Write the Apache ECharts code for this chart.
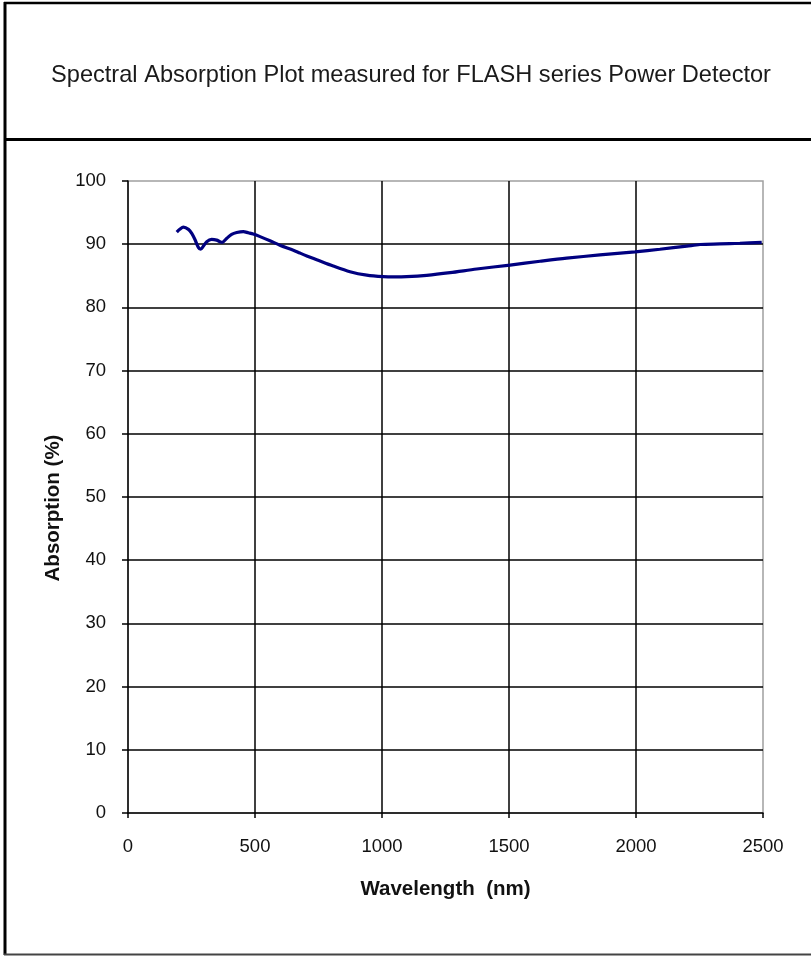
<!DOCTYPE html>
<html>
<head>
<meta charset="utf-8">
<title>Spectral Absorption Plot</title>
<script src="https://cdn.jsdelivr.net/npm/echarts@6/dist/echarts.min.js"></script>
<style>
  html, body { margin: 0; padding: 0; background: #fff; }
  #chart { width: 811px; height: 956px; }
</style>
</head>
<body>
<div id="chart"></div>
<script>
// Measured absorption of the FLASH series detector coating
const wavelengthNm = [
  192, 205, 218, 238, 251, 264, 277, 286, 297, 310, 329, 349, 362, 371,
  388, 408, 428, 454, 474, 493, 520, 559, 598, 651, 677, 704, 743, 808,
  874, 940, 1005, 1050, 1097, 1176, 1268, 1373, 1504, 1622, 1727, 1858,
  1996, 2094, 2200, 2252, 2330, 2409, 2495
];
const absorptionPct = [
  91.9, 92.4, 92.7, 92.35, 91.7, 90.7, 89.5, 89.2, 89.7, 90.4, 90.75, 90.65, 90.4, 90.3,
  90.9, 91.55, 91.85, 92.0, 91.8, 91.6, 91.2, 90.55, 89.85, 89.05, 88.6, 88.15, 87.55, 86.55,
  85.65, 85.1, 84.86, 84.82, 84.86, 85.08, 85.5, 86.08, 86.7, 87.3, 87.8, 88.3,
  88.8, 89.2, 89.7, 89.95, 90.05, 90.15, 90.3
];

// Axis ranges and ticks
const xTicks = { min: 0, max: 2500, step: 500 };
const yTicks = { min: 0, max: 100, step: 10 };

const titleText = 'Spectral Absorption Plot measured for FLASH series Power Detector';
const xName = 'Wavelength  (nm)';
const yName = 'Absorption (%)';

const points = wavelengthNm.map((w, i) => [w, absorptionPct[i]]);

const chart = echarts.init(document.getElementById('chart'), null, { renderer: 'canvas' });

const textFont = '"Liberation Sans", Arial, sans-serif';
const plainNumber = v => String(v);

chart.setOption({
  backgroundColor: '#ffffff',
  animation: false,
  title: {
    text: titleText,
    left: 406,
    top: 58,
    textAlign: 'center',
    textStyle: {
      fontFamily: textFont,
      fontSize: 23.6,
      fontWeight: 'normal',
      color: '#1a1a1a'
    }
  },
  grid: {
    left: 128,
    right: 48,
    top: 181,
    bottom: 143,
    show: true,
    borderColor: '#a0a0a0',
    borderWidth: 1.5,
    backgroundColor: 'transparent'
  },
  xAxis: {
    type: 'value',
    min: xTicks.min,
    max: xTicks.max,
    interval: xTicks.step,
    name: xName,
    nameLocation: 'middle',
    nameGap: 66,
    nameTextStyle: {
      fontFamily: textFont,
      fontSize: 20.5,
      fontWeight: 'bold',
      color: '#111'
    },
    axisLine: { show: true, onZero: false, lineStyle: { color: '#000', width: 1.5 } },
    axisTick: { show: true, inside: false, length: 5, lineStyle: { color: '#000', width: 1.5 } },
    axisLabel: {
      margin: 24,
      fontFamily: textFont,
      fontSize: 18.5,
      color: '#111',
      formatter: plainNumber
    },
    splitLine: { show: true, showMinLine: false, showMaxLine: false, lineStyle: { color: '#000', width: 1.5 } }
  },
  yAxis: {
    type: 'value',
    min: yTicks.min,
    max: yTicks.max,
    interval: yTicks.step,
    name: yName,
    nameLocation: 'middle',
    nameGap: 55,
    nameRotate: 90,
    nameTextStyle: {
      fontFamily: textFont,
      fontSize: 20.5,
      fontWeight: 'bold',
      color: '#111',
      padding: [0, 22, 0, 0]
    },
    axisLine: { show: true, onZero: false, lineStyle: { color: '#000', width: 1.5 } },
    axisTick: { show: true, inside: false, length: 6, lineStyle: { color: '#000', width: 1.5 } },
    axisLabel: {
      margin: 22,
      fontFamily: textFont,
      fontSize: 18.5,
      color: '#111',
      formatter: plainNumber
    },
    splitLine: { show: true, showMinLine: false, showMaxLine: false, lineStyle: { color: '#000', width: 1.5 } }
  },
  series: [{
    type: 'line',
    data: points,
    smooth: 0.3,
    showSymbol: false,
    lineStyle: { color: '#000080', width: 3.2 },
    z: 5
  }],
  graphic: [
    // frame around the title and chart panels
    { type: 'line', shape: { x1: 5, y1: 2, x2: 5, y2: 955 }, style: { stroke: '#000', lineWidth: 3 }, silent: true },
    { type: 'line', shape: { x1: 4, y1: 3, x2: 811, y2: 3 }, style: { stroke: '#000', lineWidth: 2.5 }, silent: true },
    { type: 'line', shape: { x1: 4, y1: 139.5, x2: 811, y2: 139.5 }, style: { stroke: '#000', lineWidth: 3 }, silent: true },
    { type: 'line', shape: { x1: 4, y1: 954.5, x2: 811, y2: 954.5 }, style: { stroke: '#444', lineWidth: 2 }, silent: true }
  ]
});
</script>
</body>
</html>
